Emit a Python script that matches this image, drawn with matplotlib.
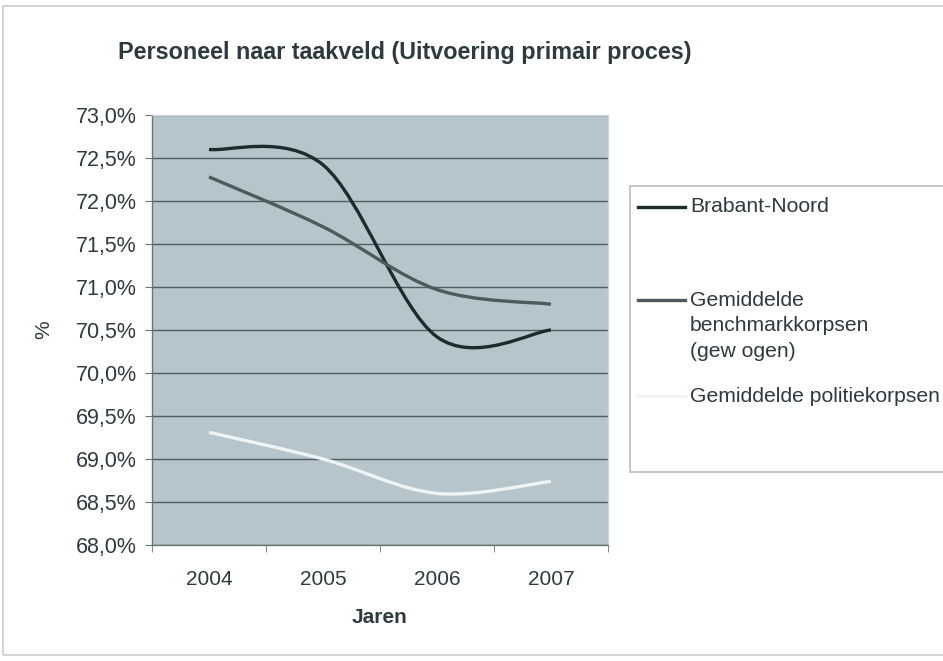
import matplotlib
matplotlib.use("Agg")
import matplotlib.pyplot as plt
from matplotlib.path import Path
from matplotlib.patches import PathPatch, Rectangle
from matplotlib.lines import Line2D
from matplotlib.ticker import FuncFormatter, MultipleLocator, FixedLocator

plt.rcParams['font.family'] = ['Liberation Sans', 'DejaVu Sans']

years = ["2004", "2005", "2006", "2007"]
brabant_noord = [72.6, 72.42, 70.42, 70.5]
benchmark = [72.28, 71.7, 70.97, 70.8]
politie = [69.31, 69.0, 68.6, 68.74]
series_names = ["Brabant-Noord", "Gemiddelde\nbenchmarkkorpsen\n(gew ogen)",
                "Gemiddelde politiekorpsen"]
series_colors = ["#1d2b2d", "#4e5b5d", "#eef3f4"]

text_color = "#2e3a3d"

fig = plt.figure(figsize=(9.43, 6.61), dpi=100)
fig.patch.set_facecolor("white")

# outer chart border
fig.patches.append(Rectangle((3 / 943, 6 / 661), 1.0, 1 - 12 / 661, transform=fig.transFigure,
                             fill=False, edgecolor="#c9cdcd", linewidth=1.2))

ax = fig.add_axes([152 / 943, 1 - 545 / 661, 456 / 943, 430 / 661])
ax.set_facecolor("#b6c5cc")


def smooth_path(xs, ys):
    pts = list(zip(xs, ys))
    n = len(pts)
    verts = [pts[0]]
    codes = [Path.MOVETO]
    for i in range(n - 1):
        p0 = pts[i - 1] if i > 0 else pts[i]
        p1 = pts[i]
        p2 = pts[i + 1]
        p3 = pts[i + 2] if i + 2 < n else pts[i + 1]
        c1 = (p1[0] + (p2[0] - p0[0]) / 6, p1[1] + (p2[1] - p0[1]) / 6)
        c2 = (p2[0] - (p3[0] - p1[0]) / 6, p2[1] - (p3[1] - p1[1]) / 6)
        verts += [c1, c2, p2]
        codes += [Path.CURVE4] * 3
    return Path(verts, codes)


xs = list(range(len(years)))
for vals, col in zip([brabant_noord, benchmark, politie], series_colors):
    ax.add_patch(PathPatch(smooth_path(xs, vals), fill=False, edgecolor=col,
                           linewidth=2.4, capstyle="butt", zorder=3))

ax.set_xlim(-0.5, len(years) - 0.5)
ax.set_ylim(68.0, 73.0)
ax.yaxis.set_major_locator(MultipleLocator(0.5))
ax.yaxis.set_major_formatter(FuncFormatter(lambda v, p: f"{v:.1f}%".replace(".", ",")))
ax.grid(axis="y", color="#4d5d62", linewidth=1.0)
ax.set_axisbelow(True)

ax.set_xticks(xs)
ax.set_xticklabels(years)
ax.xaxis.set_minor_locator(FixedLocator([i - 0.5 for i in range(len(years) + 1)]))
ax.tick_params(axis="x", which="major", length=0, pad=18, labelsize=15, labelcolor=text_color)
ax.tick_params(axis="x", which="minor", length=5, color="#6a7676", direction="out")
ax.tick_params(axis="y", length=5, color="#6a7676", direction="out", pad=6,
               labelsize=15.5, labelcolor=text_color)

for s in ["left", "bottom"]:
    ax.spines[s].set_color("#6a7676")
    ax.spines[s].set_linewidth(1.0)
for s in ["top", "right"]:
    ax.spines[s].set_color("#cfd8dc")
    ax.spines[s].set_linewidth(1.0)

ax.set_xlabel("Jaren", fontsize=15, fontweight="bold", color=text_color, labelpad=14)
ax.set_ylabel("%", fontsize=15, color=text_color, labelpad=16)

fig.text(118 / 943, 1 - 53 / 661, "Personeel naar taakveld (Uitvoering primair proces)",
         fontsize=16.8, fontweight="bold", color=text_color, va="center", ha="left")

# legend box
fig.patches.append(Rectangle((630 / 943, 1 - 472 / 661), 0.5, 286 / 661,
                             transform=fig.transFigure, facecolor="white",
                             edgecolor="#b9c0c0", linewidth=1.2, zorder=1))
legend_y = [207, 326, 396]
line_y = [207, 300, 396]
for name, col, ty, ly in zip(series_names, series_colors, legend_y, line_y):
    fig.add_artist(Line2D([638 / 943, 685 / 943], [1 - ly / 661, 1 - ly / 661],
                          transform=fig.transFigure, color=col, linewidth=2.4, zorder=2))
    fig.text(690 / 943, 1 - ty / 661, name, fontsize=15.2, color=text_color,
             va="center", ha="left", linespacing=1.45, zorder=3)

fig.savefig("out.png", dpi=100)
